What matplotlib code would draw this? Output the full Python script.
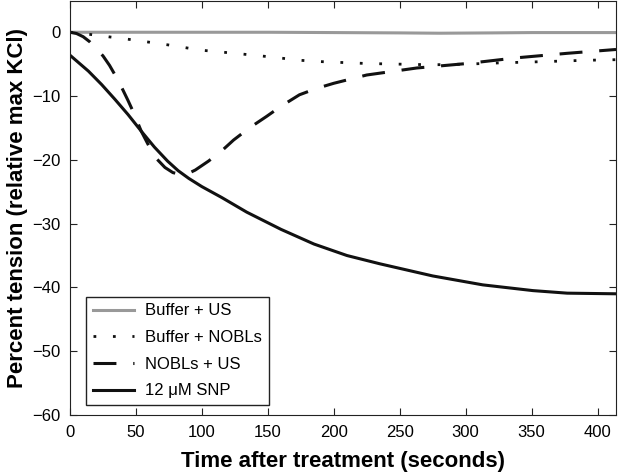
import numpy as np
import matplotlib
matplotlib.use('Agg')
import matplotlib.pyplot as plt

plt.rcParams['font.family'] = ['Liberation Sans', 'DejaVu Sans']

# Buffer + US (flat near zero)
t_buf_us = [0, 50, 100, 150, 200, 250, 280, 320, 350, 414]
y_buf_us = [0, 0, 0, 0, -0.05, -0.1, -0.15, -0.1, -0.05, -0.05]

# Buffer + NOBLs (dotted)
t_buf_nobl = [0, 10, 25, 48, 75, 99, 125, 149, 175, 190, 225, 250, 275, 300, 326, 360, 390, 414]
y_buf_nobl = [0, -0.2, -0.6, -1.2, -2.0, -2.8, -3.3, -3.8, -4.4, -4.6, -4.9, -5.0, -5.1, -5.0, -4.8, -4.6, -4.4, -4.3]

# NOBLs + US (dashed)
t_nobl_us = [0, 5, 10, 15, 20, 25, 30, 35, 40, 44, 48, 54, 60, 66, 72, 78, 84, 90, 95, 105, 115,
             124, 136, 149, 160, 174, 187, 200, 225, 263, 301, 339, 377, 414]
y_nobl_us = [0, -0.2, -0.7, -1.5, -2.6, -3.7, -5.2, -7.0, -9.0, -10.7, -12.5, -15.5, -17.9, -19.9,
             -21.2, -22.0, -22.3, -22.1, -21.6, -20.2, -18.6, -16.9, -15.0, -13.2, -11.6, -9.8,
             -8.8, -8.0, -6.7, -5.6, -4.9, -4.0, -3.3, -2.7]

# 12 uM SNP (solid)
t_snp = [0, 14, 24, 34, 44, 54, 64, 74, 82, 90, 100, 115, 134, 160, 185, 210, 235, 275, 313, 351, 377, 414]
y_snp = [-3.6, -6.1, -8.2, -10.5, -12.9, -15.5, -18.0, -20.2, -21.7, -22.9, -24.2, -25.9, -28.2,
         -30.9, -33.2, -35.0, -36.3, -38.2, -39.6, -40.5, -40.9, -41.0]

fig = plt.figure(figsize=(6.18, 4.74), dpi=100)
ax = fig.add_axes([70/618, 1 - 415/474, 546/618, 414/474])

ax.plot(t_buf_us, y_buf_us, color='#999999', lw=2.2, label='Buffer + US')
ax.plot(t_buf_nobl, y_buf_nobl, color='#111111', lw=2, linestyle=(0, (1, 6)), label='Buffer + NOBLs')
ax.plot(t_nobl_us, y_nobl_us, color='#111111', lw=2.2, linestyle=(0, (7.5, 5.5)), label='NOBLs + US')
ax.plot(t_snp, y_snp, color='#111111', lw=2.2, label='12 \u03bcM SNP')

ax.set_xlim(0, 414)
ax.set_ylim(-60, 4.9)
ax.set_xticks(np.arange(0, 401, 50))
ax.set_yticks(np.arange(-60, 1, 10))
ax.set_yticklabels(['\u221260', '\u221250', '\u221240', '\u221230', '\u221220', '\u221210', '0'])
ax.tick_params(direction='in', top=True, right=True, labelsize=12, length=5, pad=7, color='#222222')
for s in ax.spines.values():
    s.set_color('#222222')

ax.set_xlabel('Time after treatment (seconds)', fontsize=16, fontweight='bold', labelpad=8)
ax.set_ylabel('Percent tension (relative max KCl)', fontsize=16, fontweight='bold', labelpad=3)

leg = ax.legend(loc='lower left', bbox_to_anchor=(0.029, 0.024), borderaxespad=0, fontsize=12,
                handlelength=2.5, handletextpad=0.65, fancybox=False, edgecolor='#222222',
                framealpha=1, labelspacing=0.7)
leg.get_frame().set_linewidth(1)

fig.savefig('out.png', dpi=100)
